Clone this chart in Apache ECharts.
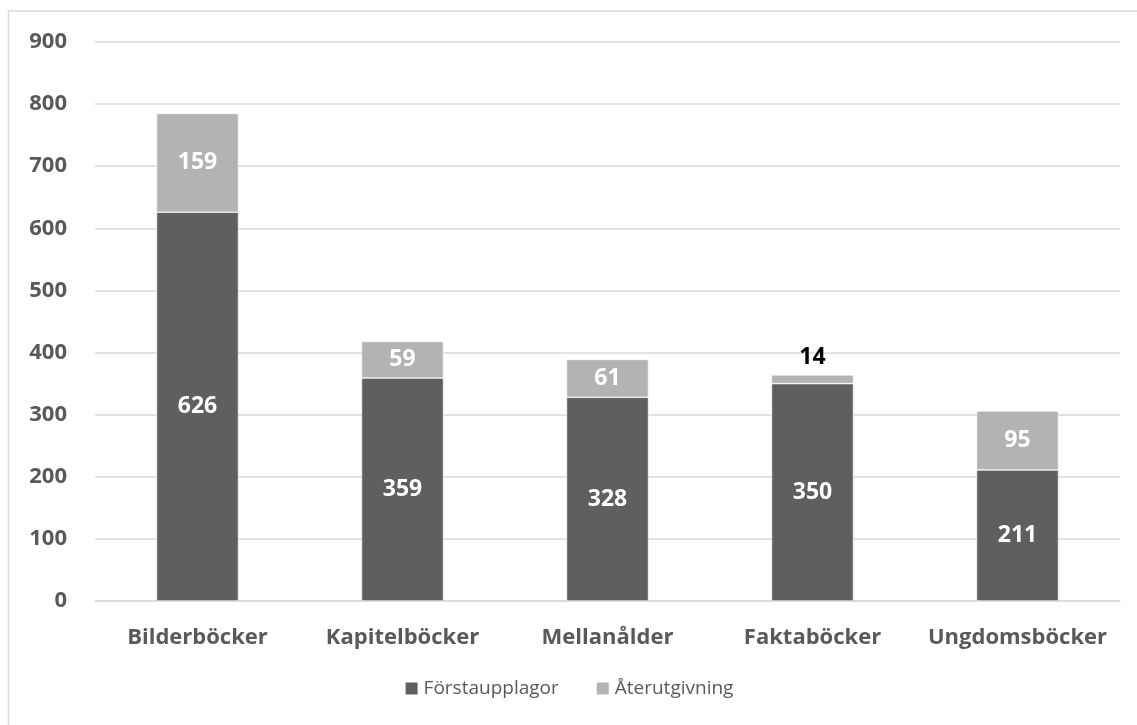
<!DOCTYPE html>
<html><head><meta charset="utf-8">
<script src="https://cdn.jsdelivr.net/npm/echarts@6/dist/echarts.min.js"></script>
<style>html,body{margin:0;padding:0;background:#fff}#c{width:1137px;height:725px}</style>
</head><body><div id="c"></div>
<script>
const categories = ['Bilderböcker','Kapitelböcker','Mellanålder','Faktaböcker','Ungdomsböcker'];
const forsta = [626, 359, 328, 350, 211];
const ater = [159, 59, 61, 14, 95];
const seriesNames = ['Förstaupplagor','Återutgivning'];
const FONT = '"Open Sans", "Noto Sans", sans-serif';
const chart = echarts.init(document.getElementById('c'));
chart.setOption({
  animation: false,
  textStyle: {fontFamily: FONT},
  graphic: [{type:'rect', shape:{x:8.5, y:11, width:1140, height:730}, style:{fill:'none', stroke:'#d9d9d9', lineWidth:1.5}}],
  grid: {left:95, right:17, top:42, bottom:124},
  legend: {bottom:22, left:'center', itemWidth:14, itemHeight:14, itemGap:36, icon:'rect',
    textStyle:{fontSize:19, color:'#595959', fontFamily:FONT}, data: seriesNames},
  xAxis: {type:'category', data:categories,
    axisLine:{lineStyle:{color:'#d9d9d9', width:1.5}}, axisTick:{show:false},
    axisLabel:{interval:0, hideOverlap:false, fontSize:22, fontWeight:'bold', color:'#595959', margin:26, fontFamily:FONT}},
  yAxis: {type:'value', min:0, max:900, interval:100,
    axisLine:{show:false}, axisTick:{show:false},
    splitLine:{lineStyle:{color:'#d9d9d9', width:1.5}},
    axisLabel:{fontSize:22, fontWeight:'bold', color:'#595959', margin:28, fontFamily:FONT}},
  series: [
    {name:seriesNames[0], type:'bar', stack:'a', data:forsta, barWidth:'40%',
     itemStyle:{color:'#5f5f5f', borderColor:'#ffffff', borderWidth:0.6},
     label:{show:true, position:'inside', color:'#fff', fontSize:23, fontWeight:'bold', fontFamily:FONT}},
    {name:seriesNames[1], type:'bar', stack:'a', data:ater.map((v,i)=> i===3 ? {value:v, label:{position:'top', color:'#000', distance:6}} : v), barWidth:'40%',
     itemStyle:{color:'#b3b3b3', borderColor:'#ffffff', borderWidth:0.6},
     label:{show:true, position:'inside', color:'#fff', fontSize:23, fontWeight:'bold', fontFamily:FONT}}
  ]
});
</script></body></html>
